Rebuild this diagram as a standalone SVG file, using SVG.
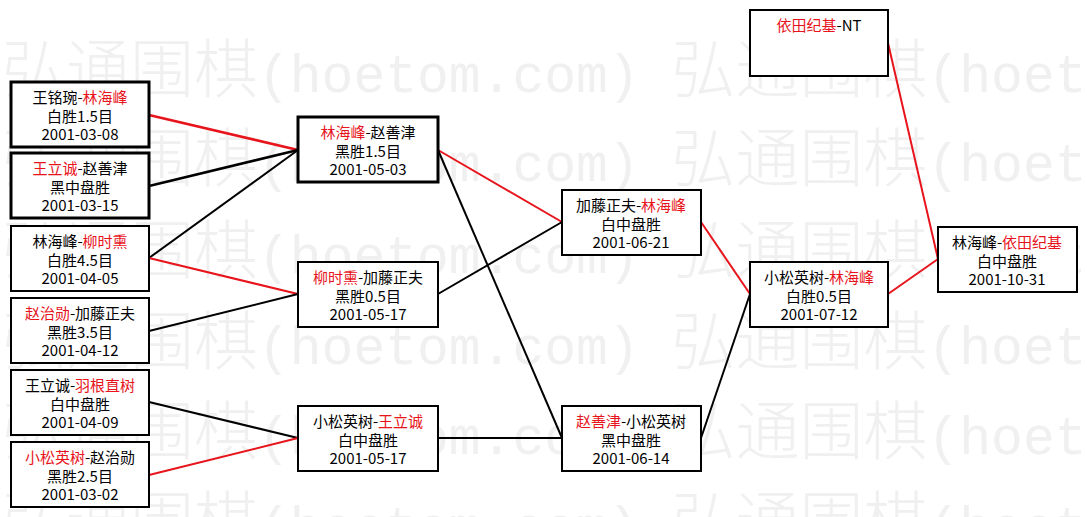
<svg xmlns="http://www.w3.org/2000/svg" width="1087" height="517" viewBox="0 0 1087 517">
<style>
.bg{fill:#ffffff}
.wm{fill:#f0f0f0;font-family:"Noto Sans CJK SC",sans-serif;font-size:64px;font-weight:300}
.wm .a{font-family:"Liberation Mono",monospace;font-size:53px;font-weight:400}
.box{fill:#ffffff;stroke:#000000;stroke-width:2}
.thick{stroke-width:3}
.t{font-family:"Noto Sans CJK SC",sans-serif;font-size:15px;fill:#000000;text-anchor:middle}
.r{fill:#e8141c}
.lk{stroke:#000000;stroke-width:2;fill:none}
.lr{stroke:#e8141c;stroke-width:2;fill:none}
.w{stroke-width:2.6}
</style>
<rect class="bg" x="0" y="0" width="1087" height="517"/>
<g id="watermark">
<text class="wm" x="2" y="92">弘通围棋<tspan class="a">(hoetom.com) </tspan>弘通围棋<tspan class="a">(hoetom.com)</tspan></text>
<text class="wm" x="2" y="181">弘通围棋<tspan class="a">(hoetom.com) </tspan>弘通围棋<tspan class="a">(hoetom.com)</tspan></text>
<text class="wm" x="2" y="273">弘通围棋<tspan class="a">(hoetom.com) </tspan>弘通围棋<tspan class="a">(hoetom.com)</tspan></text>
<text class="wm" x="2" y="364">弘通围棋<tspan class="a">(hoetom.com) </tspan>弘通围棋<tspan class="a">(hoetom.com)</tspan></text>
<text class="wm" x="2" y="454">弘通围棋<tspan class="a">(hoetom.com) </tspan>弘通围棋<tspan class="a">(hoetom.com)</tspan></text>
<text class="wm" x="2" y="544">弘通围棋<tspan class="a">(hoetom.com) </tspan>弘通围棋<tspan class="a">(hoetom.com)</tspan></text>
</g>
<g id="connectors">
<line class="lr w" x1="149" y1="115" x2="298" y2="150"/>
<line class="lk w" x1="149" y1="186" x2="298" y2="150"/>
<line class="lk" x1="149" y1="258" x2="298" y2="150"/>
<line class="lr" x1="149" y1="258" x2="298" y2="294"/>
<line class="lk" x1="149" y1="331" x2="298" y2="294"/>
<line class="lk" x1="149" y1="402" x2="298" y2="438"/>
<line class="lr" x1="149" y1="475" x2="298" y2="438"/>
<line class="lr" x1="438" y1="150" x2="562" y2="222"/>
<line class="lk" x1="438" y1="294" x2="562" y2="222"/>
<line class="lk" x1="438" y1="150" x2="562" y2="438"/>
<line class="lk" x1="438" y1="438" x2="562" y2="438"/>
<line class="lr" x1="701" y1="222" x2="750" y2="294"/>
<line class="lk" x1="701" y1="438" x2="750" y2="294"/>
<line class="lr" x1="888" y1="294" x2="938" y2="259"/>
<line class="lr" x1="888" y1="43" x2="938" y2="259"/>
</g>
<g id="n1">
<rect class="box thick" x="11" y="82" width="138" height="65"/>
<text class="t" x="80" y="103">王铭琬-<tspan class="r">林海峰</tspan></text>
<text class="t" x="80" y="122">白胜1.5目</text>
<text class="t" x="80" y="140">2001-03-08</text>
</g>
<g id="n2">
<rect class="box thick" x="11" y="153" width="138" height="65"/>
<text class="t" x="80" y="174"><tspan class="r">王立诚</tspan>-赵善津</text>
<text class="t" x="80" y="193">黑中盘胜</text>
<text class="t" x="80" y="211">2001-03-15</text>
</g>
<g id="n3">
<rect class="box" x="11" y="226" width="138" height="65"/>
<text class="t" x="80" y="247">林海峰-<tspan class="r">柳时熏</tspan></text>
<text class="t" x="80" y="266">白胜4.5目</text>
<text class="t" x="80" y="284">2001-04-05</text>
</g>
<g id="n4">
<rect class="box" x="11" y="298" width="138" height="65"/>
<text class="t" x="80" y="319"><tspan class="r">赵治勋</tspan>-加藤正夫</text>
<text class="t" x="80" y="338">黑胜3.5目</text>
<text class="t" x="80" y="356">2001-04-12</text>
</g>
<g id="n5">
<rect class="box" x="11" y="370" width="138" height="65"/>
<text class="t" x="80" y="391">王立诚-<tspan class="r">羽根直树</tspan></text>
<text class="t" x="80" y="410">白中盘胜</text>
<text class="t" x="80" y="428">2001-04-09</text>
</g>
<g id="n6">
<rect class="box" x="11" y="442" width="138" height="65"/>
<text class="t" x="80" y="463"><tspan class="r">小松英树</tspan>-赵治勋</text>
<text class="t" x="80" y="482">黑胜2.5目</text>
<text class="t" x="80" y="500">2001-03-02</text>
</g>
<g id="nA">
<rect class="box thick" x="298" y="117" width="140" height="65"/>
<text class="t" x="368" y="138"><tspan class="r">林海峰</tspan>-赵善津</text>
<text class="t" x="368" y="157">黑胜1.5目</text>
<text class="t" x="368" y="175">2001-05-03</text>
</g>
<g id="nB">
<rect class="box" x="298" y="262" width="140" height="65"/>
<text class="t" x="368" y="283"><tspan class="r">柳时熏</tspan>-加藤正夫</text>
<text class="t" x="368" y="302">黑胜0.5目</text>
<text class="t" x="368" y="320">2001-05-17</text>
</g>
<g id="nC">
<rect class="box" x="298" y="406" width="140" height="65"/>
<text class="t" x="368" y="427">小松英树-<tspan class="r">王立诚</tspan></text>
<text class="t" x="368" y="446">白中盘胜</text>
<text class="t" x="368" y="464">2001-05-17</text>
</g>
<g id="nD">
<rect class="box" x="562" y="190" width="139" height="65"/>
<text class="t" x="631" y="211">加藤正夫-<tspan class="r">林海峰</tspan></text>
<text class="t" x="631" y="230">白中盘胜</text>
<text class="t" x="631" y="248">2001-06-21</text>
</g>
<g id="nE">
<rect class="box" x="562" y="406" width="139" height="65"/>
<text class="t" x="631" y="427"><tspan class="r">赵善津</tspan>-小松英树</text>
<text class="t" x="631" y="446">黑中盘胜</text>
<text class="t" x="631" y="464">2001-06-14</text>
</g>
<g id="nF">
<rect class="box" x="750" y="262" width="138" height="65"/>
<text class="t" x="819" y="283">小松英树-<tspan class="r">林海峰</tspan></text>
<text class="t" x="819" y="302">白胜0.5目</text>
<text class="t" x="819" y="320">2001-07-12</text>
</g>
<g id="nG">
<rect class="box" x="750" y="10" width="138" height="66"/>
<text class="t" x="819" y="31"><tspan class="r">依田纪基</tspan>-NT</text>
</g>
<g id="nH">
<rect class="box" x="938" y="227" width="139" height="65"/>
<text class="t" x="1007" y="248">林海峰-<tspan class="r">依田纪基</tspan></text>
<text class="t" x="1007" y="267">白中盘胜</text>
<text class="t" x="1007" y="285">2001-10-31</text>
</g>
</svg>
